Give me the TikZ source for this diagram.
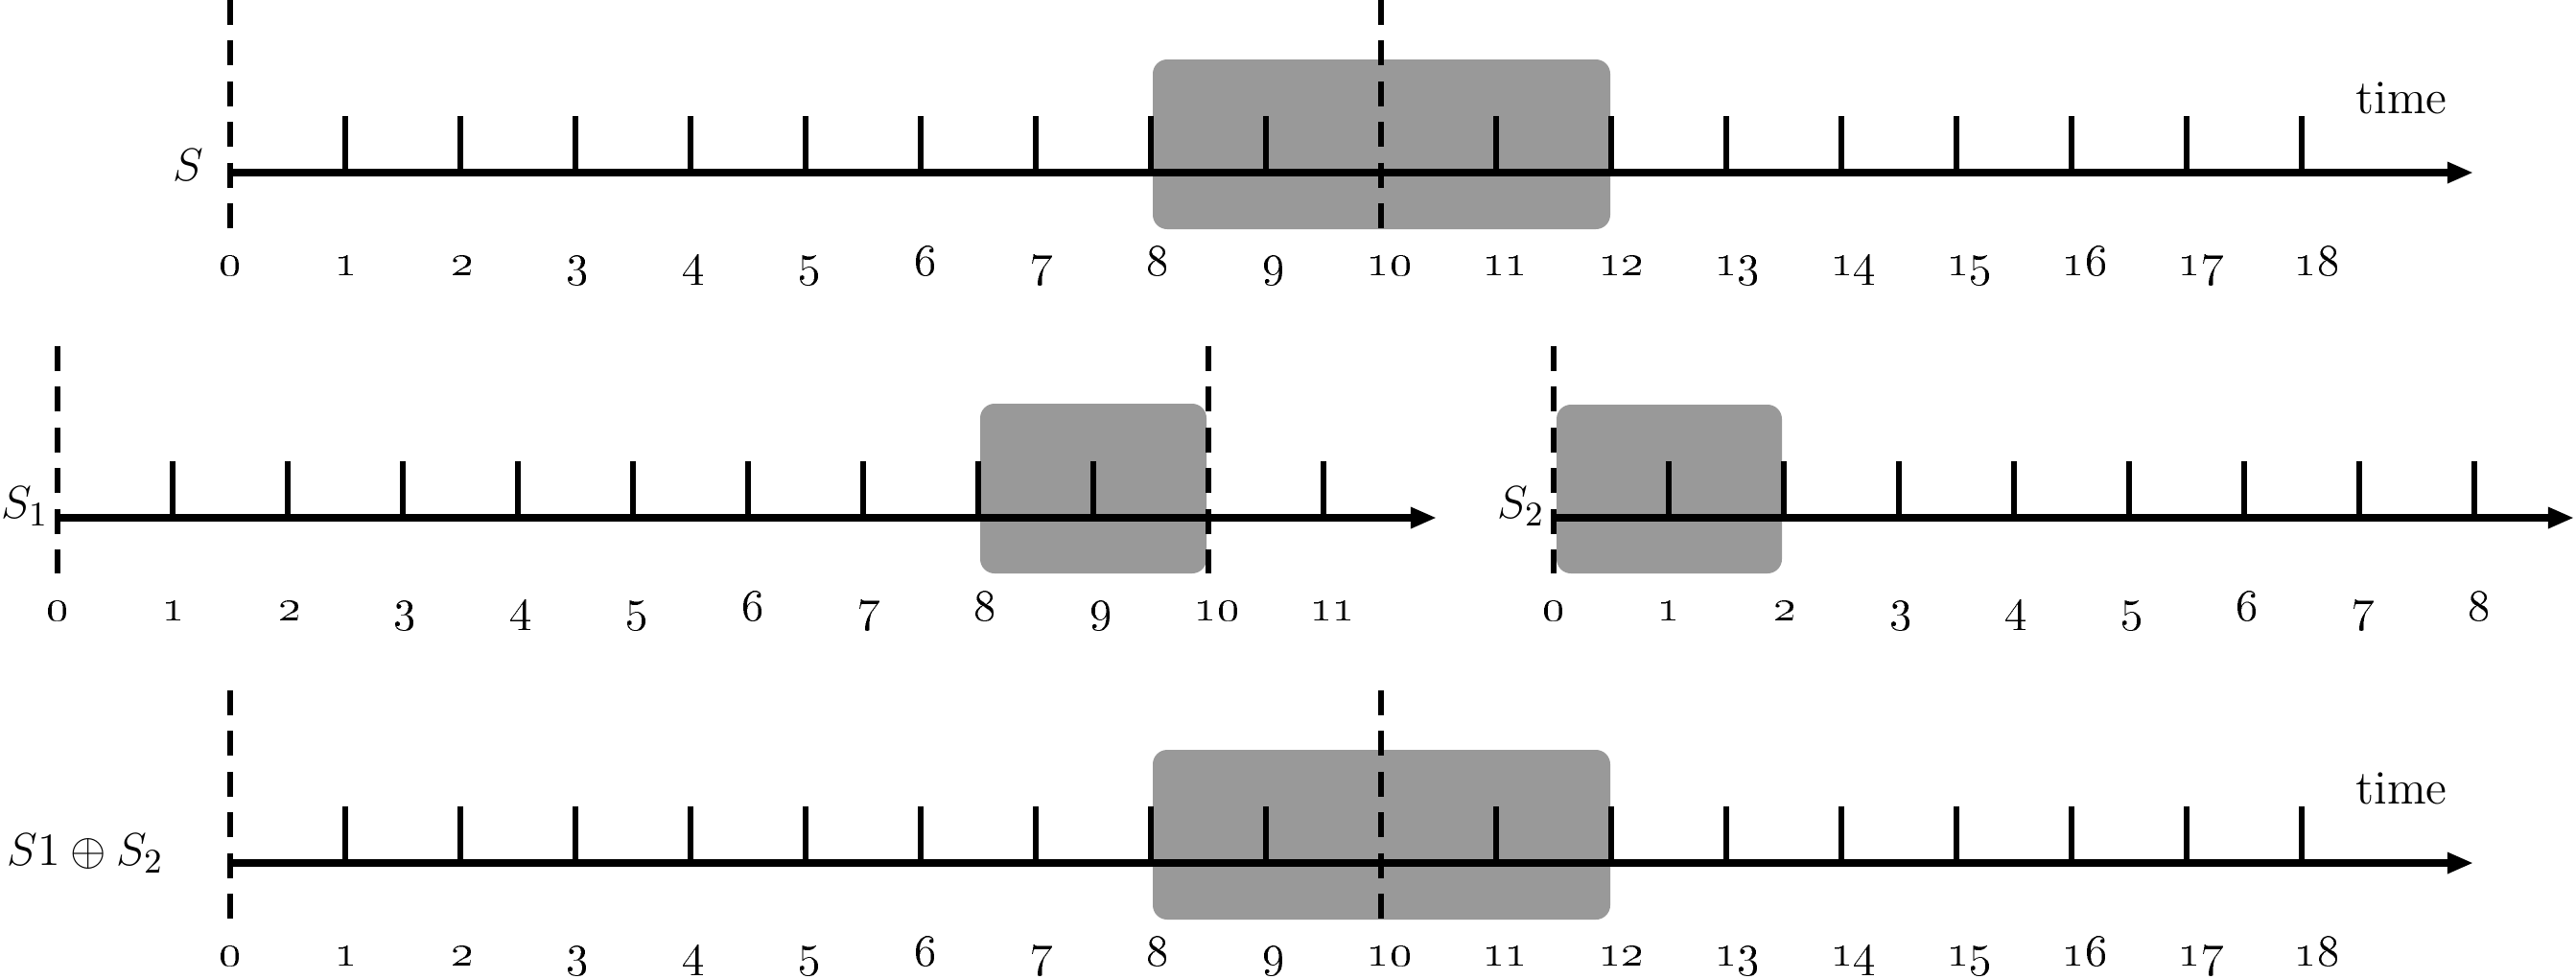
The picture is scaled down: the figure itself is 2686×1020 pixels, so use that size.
\documentclass[tikz,border=0pt]{standalone}
\usetikzlibrary{arrows.meta}
\definecolor{boxgray}{RGB}{153,153,153}
\begin{document}
\begin{tikzpicture}[x=0.25pt,y=-0.25pt,
  axisline/.style={line width=1.8pt,-{Triangle[length=6.8pt,width=5.2pt]}},
  tickline/.style={line width=1.4pt},
  zeroline/.style={line width=1.7pt,dash pattern=on 6.5pt off 4.1pt},
  shade/.style={fill=boxgray,rounded corners=3.75pt},
  num/.style={anchor=base,inner sep=0pt,font=\fontsize{12.5}{15}\selectfont},
  rowlabel/.style={inner sep=0pt,font=\fontsize{12.5}{15}\selectfont},
  timelabel/.style={anchor=base,inner sep=0pt,font=\fontsize{12.5}{15}\selectfont}]
\useasboundingbox (0,0) rectangle (2686,1020);

% ---------- Row 1: S ----------
\fill[shade] (1202,62) rectangle (1679,239);
\coordinate (r1s) at (240,180);
\coordinate (r1e) at (2579,180);
\draw[axisline] (r1s) -- (r1e);
\foreach \i in {1,...,9,11,12,13,14,15,16,17,18}
  \draw[tickline] (240+120*\i,180) -- ++(0,-59);
\coordinate (r1d0t) at (240,0);   \coordinate (r1d0b) at (240,238);
\coordinate (r1d1t) at (1440,0);  \coordinate (r1d1b) at (1440,238);
\draw[zeroline] (r1d0t) -- (r1d0b);
\draw[zeroline] (r1d1t) -- (r1d1b);
\foreach \i in {0,...,18}
  \node[num] (ra\i) at (240+120.9*\i,287) {\oldstylenums{\i}};
\node[rowlabel] (S) at (196,172) {$S$};
\node[timelabel] (time1) at (2504,118) {time};

% ---------- Row 2 left: S_1 ----------
\fill[shade] (1022,421) rectangle (1258,598);
\coordinate (r2s) at (60,540);
\coordinate (r2e) at (1498,540);
\draw[axisline] (r2s) -- (r2e);
\foreach \i in {1,...,9,11}
  \draw[tickline] (60+120*\i,540) -- ++(0,-59);
\coordinate (r2d0t) at (60,361);   \coordinate (r2d0b) at (60,598);
\coordinate (r2d1t) at (1260,361); \coordinate (r2d1b) at (1260,598);
\draw[zeroline] (r2d0t) -- (r2d0b);
\draw[zeroline] (r2d1t) -- (r2d1b);
\foreach \i in {0,...,11}
  \node[num] (rb\i) at (60+120.9*\i,647) {\oldstylenums{\i}};
\node[rowlabel] (S1) at (26,528) {$S_1$};

% ---------- Row 2 right: S_2 ----------
\fill[shade] (1623,422) rectangle (1858,598);
\coordinate (r3s) at (1620,540);
\coordinate (r3e) at (2684,540);
\draw[axisline] (r3s) -- (r3e);
\foreach \i in {1,...,8}
  \draw[tickline] (1620+120*\i,540) -- ++(0,-59);
\coordinate (r3d0t) at (1620,361); \coordinate (r3d0b) at (1620,598);
\draw[zeroline] (r3d0t) -- (r3d0b);
\foreach \i in {0,...,8}
  \node[num] (rc\i) at (1620+120.6*\i,647) {\oldstylenums{\i}};
\node[rowlabel] (S2) at (1586,528) {$S_2$};

% ---------- Row 3: S1 + S2 ----------
\fill[shade] (1202,782) rectangle (1679,959);
\coordinate (r4s) at (240,900);
\coordinate (r4e) at (2579,900);
\draw[axisline] (r4s) -- (r4e);
\foreach \i in {1,...,9,11,12,13,14,15,16,17,18}
  \draw[tickline] (240+120*\i,900) -- ++(0,-59);
\coordinate (r4d0t) at (240,720);   \coordinate (r4d0b) at (240,958);
\coordinate (r4d1t) at (1440,720);  \coordinate (r4d1b) at (1440,958);
\draw[zeroline] (r4d0t) -- (r4d0b);
\draw[zeroline] (r4d1t) -- (r4d1b);
\foreach \i in {0,...,18}
  \node[num] (rd\i) at (240+120.9*\i,1007) {\oldstylenums{\i}};
\node[rowlabel] (S12) at (89,890) {$S1 \oplus S_2$};
\node[timelabel] (time2) at (2504,838) {time};
\end{tikzpicture}
\end{document}
